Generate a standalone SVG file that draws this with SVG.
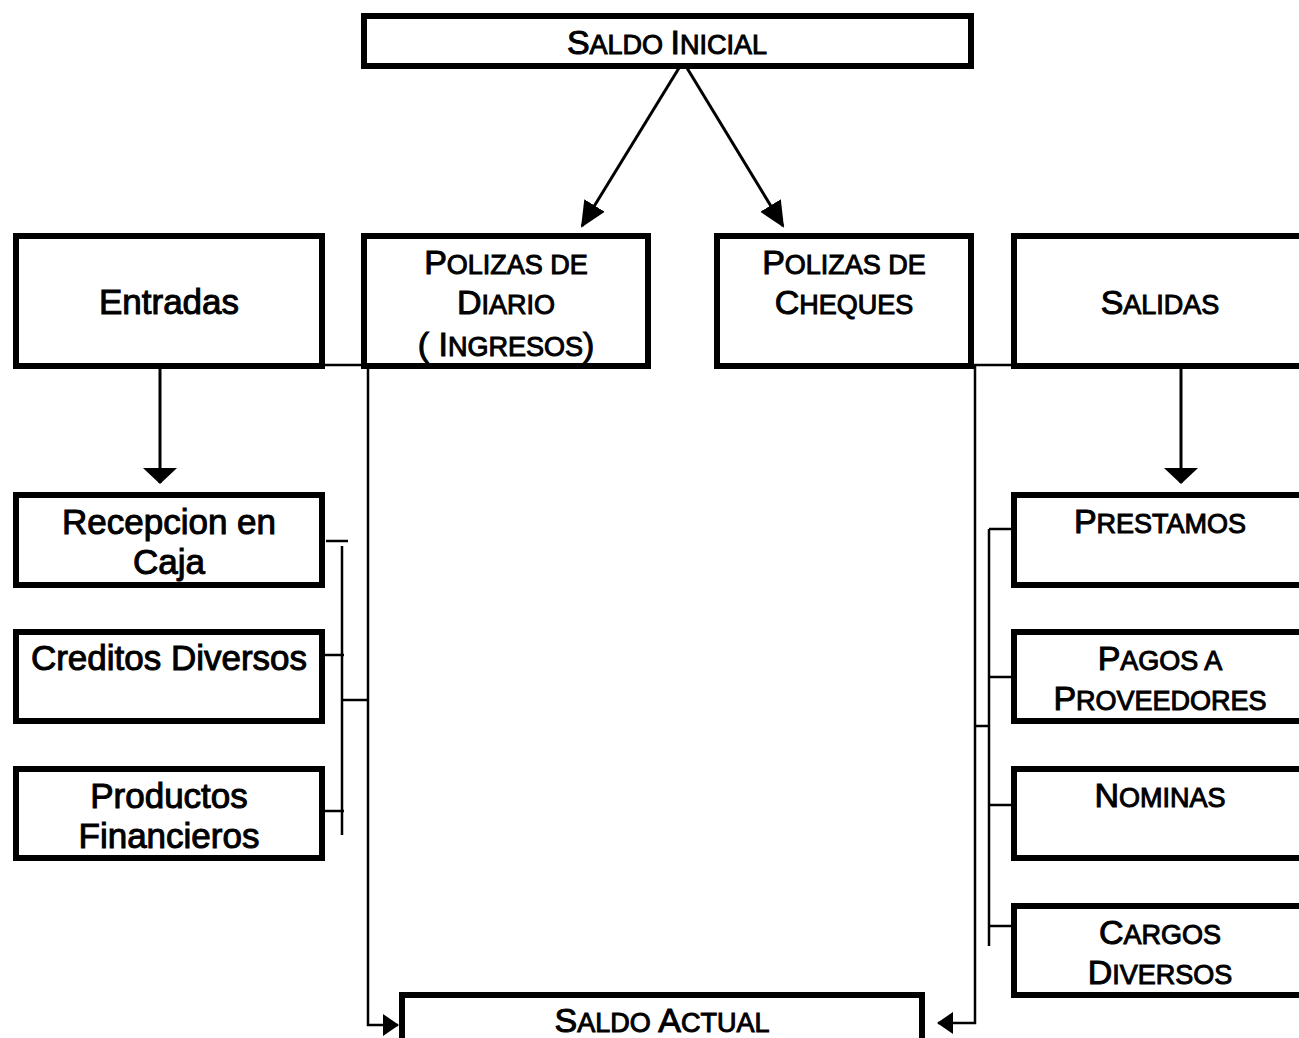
<svg xmlns="http://www.w3.org/2000/svg" width="1299" height="1038" viewBox="0 0 1299 1038">
<style>
.box{fill:#fff;stroke:#000;stroke-width:6}
.ln{fill:none;stroke:#000;stroke-width:2.5}
.al{fill:none;stroke:#000;stroke-width:3}
text{font-family:"Liberation Sans",Arial,sans-serif;fill:#000;stroke:#000;stroke-width:1;text-anchor:middle}
.r{font-size:35px}
.b{font-size:34px}
.s{font-size:27px}
</style>
<defs>
<marker id="ad" markerUnits="userSpaceOnUse" markerWidth="26" markerHeight="26" viewBox="0 0 26 26" refX="24" refY="13" orient="auto">
<path d="M0,1 L26,13 L0,25 Z" fill="#000"/>
</marker>
<marker id="aw" markerUnits="userSpaceOnUse" markerWidth="16" markerHeight="34" viewBox="0 0 16 34" refX="15" refY="17" orient="auto">
<path d="M0,0 L16,17 L0,34 Z" fill="#000"/>
</marker>
<marker id="as" markerUnits="userSpaceOnUse" markerWidth="16" markerHeight="22" viewBox="0 0 16 22" refX="15" refY="11" orient="auto">
<path d="M0,0 L16,11 L0,22 Z" fill="#000"/>
</marker>
</defs>

<g id="connectors">
<line class="al" x1="679" y1="68" x2="582" y2="226" marker-end="url(#ad)"/>
<line class="al" x1="687" y1="68" x2="783" y2="226" marker-end="url(#ad)"/>
<line class="al" x1="160" y1="368" x2="160" y2="483" marker-end="url(#aw)"/>
<line class="al" x1="1181" y1="368" x2="1181" y2="483" marker-end="url(#aw)"/>
<line class="ln" x1="324" y1="365" x2="364" y2="365"/>
<polyline class="ln" points="368,366 368,1025 398,1025" marker-end="url(#as)"/>
<line class="ln" x1="973" y1="365" x2="1012" y2="365"/>
<polyline class="ln" points="975,366 975,1023 938,1023" marker-end="url(#as)"/>
<line class="ln" x1="326" y1="541" x2="348" y2="541"/>
<line class="ln" x1="342" y1="546" x2="342" y2="835"/>
<line class="ln" x1="324" y1="655" x2="344" y2="655"/>
<line class="ln" x1="324" y1="811" x2="344" y2="811"/>
<line class="ln" x1="343" y1="700" x2="368" y2="700"/>
<line class="ln" x1="989" y1="529" x2="989" y2="946"/>
<line class="ln" x1="989" y1="529" x2="1013" y2="529"/>
<line class="ln" x1="989" y1="677" x2="1013" y2="677"/>
<line class="ln" x1="989" y1="805" x2="1013" y2="805"/>
<line class="ln" x1="989" y1="926" x2="1013" y2="926"/>
<line class="ln" x1="975" y1="726" x2="989" y2="726"/>
</g>

<g id="saldo-inicial">
<rect class="box" x="364" y="16" width="607" height="50"/>
<text x="667" y="54"><tspan class="b">S</tspan><tspan class="s">ALDO </tspan><tspan class="b">I</tspan><tspan class="s">NICIAL</tspan></text>
</g>

<g id="entradas">
<rect class="box" x="16" y="236" width="306" height="130"/>
<text class="r" x="169" y="314">Entradas</text>
</g>

<g id="polizas-diario">
<rect class="box" x="364" y="236" width="284" height="130"/>
<text x="506" y="274"><tspan class="b">P</tspan><tspan class="s">OLIZAS DE</tspan></text>
<text x="506" y="314"><tspan class="b">D</tspan><tspan class="s">IARIO</tspan></text>
<text x="506" y="356"><tspan class="b">( I</tspan><tspan class="s">NGRESOS</tspan><tspan class="b">)</tspan></text>
</g>

<g id="polizas-cheques">
<rect class="box" x="717" y="236" width="254" height="130"/>
<text x="844" y="274"><tspan class="b">P</tspan><tspan class="s">OLIZAS DE</tspan></text>
<text x="844" y="314"><tspan class="b">C</tspan><tspan class="s">HEQUES</tspan></text>
</g>

<g id="salidas">
<rect class="box" x="1014" y="236" width="300" height="130"/>
<text x="1160" y="314"><tspan class="b">S</tspan><tspan class="s">ALIDAS</tspan></text>
</g>

<g id="recepcion-caja">
<rect class="box" x="16" y="495" width="306" height="90"/>
<text class="r" x="169" y="534">Recepcion en</text>
<text class="r" x="169" y="574">Caja</text>
</g>

<g id="creditos-diversos">
<rect class="box" x="16" y="632" width="306" height="89"/>
<text class="r" x="169" y="670">Creditos Diversos</text>
</g>

<g id="productos-financieros">
<rect class="box" x="16" y="769" width="306" height="89"/>
<text class="r" x="169" y="808">Productos</text>
<text class="r" x="169" y="848">Financieros</text>
</g>

<g id="prestamos">
<rect class="box" x="1014" y="495" width="300" height="90"/>
<text x="1160" y="533"><tspan class="b">P</tspan><tspan class="s">RESTAMOS</tspan></text>
</g>

<g id="pagos-proveedores">
<rect class="box" x="1014" y="632" width="300" height="89"/>
<text x="1160" y="670"><tspan class="b">P</tspan><tspan class="s">AGOS A</tspan></text>
<text x="1160" y="710"><tspan class="b">P</tspan><tspan class="s">ROVEEDORES</tspan></text>
</g>

<g id="nominas">
<rect class="box" x="1014" y="769" width="300" height="89"/>
<text x="1160" y="807"><tspan class="b">N</tspan><tspan class="s">OMINAS</tspan></text>
</g>

<g id="cargos-diversos">
<rect class="box" x="1014" y="906" width="300" height="89"/>
<text x="1160" y="944"><tspan class="b">C</tspan><tspan class="s">ARGOS</tspan></text>
<text x="1160" y="984"><tspan class="b">D</tspan><tspan class="s">IVERSOS</tspan></text>
</g>

<g id="saldo-actual">
<rect class="box" x="402" y="995" width="520" height="60"/>
<text x="662" y="1032"><tspan class="b">S</tspan><tspan class="s">ALDO </tspan><tspan class="b">A</tspan><tspan class="s">CTUAL</tspan></text>
</g>
</svg>
